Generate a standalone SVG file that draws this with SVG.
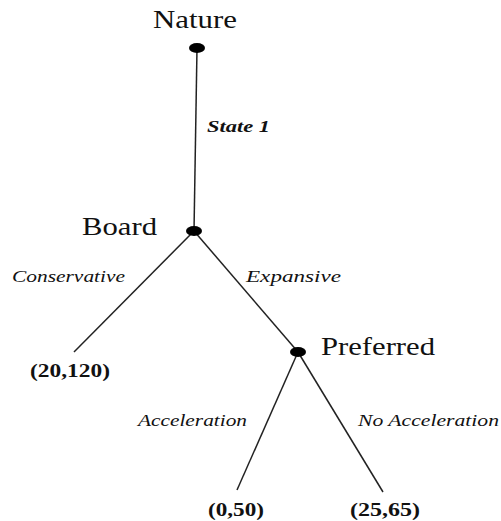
<svg xmlns="http://www.w3.org/2000/svg" width="501" height="521" viewBox="0 0 501 521">
<style>
.n{font-family:"Liberation Serif",serif;font-size:25px;fill:#111}
.l{font-family:"Liberation Serif",serif;font-size:17px;font-style:italic;fill:#111}
.p{font-family:"Liberation Serif",serif;font-size:18px;font-weight:bold;fill:#111}
.e{stroke:#222;stroke-width:1.5;fill:none}
.d{fill:#000}
</style>
<rect width="501" height="521" fill="#fff"/>
<g id="connectors">
<line class="e" x1="197" y1="48" x2="194" y2="231"/>
<line class="e" x1="194" y1="231" x2="74" y2="352"/>
<line class="e" x1="194" y1="231" x2="298" y2="352"/>
<line class="e" x1="298" y1="352" x2="237" y2="490"/>
<line class="e" x1="298" y1="352" x2="383" y2="492"/>
<text class="l" x="207" y="132" font-weight="bold" textLength="63" lengthAdjust="spacingAndGlyphs">State 1</text>
<text class="l" x="12" y="282" textLength="113" lengthAdjust="spacingAndGlyphs">Conservative</text>
<text class="l" x="246" y="282" textLength="95" lengthAdjust="spacingAndGlyphs">Expansive</text>
<text class="l" x="138" y="426" textLength="109" lengthAdjust="spacingAndGlyphs">Acceleration</text>
<text class="l" x="358" y="426" textLength="141" lengthAdjust="spacingAndGlyphs">No Acceleration</text>
</g>
<g id="nature">
<ellipse class="d" cx="197" cy="48" rx="8" ry="5"/>
<text class="n" x="153" y="28" textLength="84" lengthAdjust="spacingAndGlyphs">Nature</text>
</g>
<g id="board">
<ellipse class="d" cx="194" cy="231" rx="8" ry="5"/>
<text class="n" x="82" y="235" textLength="75" lengthAdjust="spacingAndGlyphs">Board</text>
</g>
<g id="preferred">
<ellipse class="d" cx="298" cy="352" rx="8" ry="5"/>
<text class="n" x="321" y="355" textLength="114" lengthAdjust="spacingAndGlyphs">Preferred</text>
</g>
<g id="payoff1"><text class="p" x="30" y="377" textLength="80" lengthAdjust="spacingAndGlyphs">(20,120)</text></g>
<g id="payoff2"><text class="p" x="208" y="516" textLength="56" lengthAdjust="spacingAndGlyphs">(0,50)</text></g>
<g id="payoff3"><text class="p" x="350" y="516" textLength="70" lengthAdjust="spacingAndGlyphs">(25,65)</text></g>
</svg>
